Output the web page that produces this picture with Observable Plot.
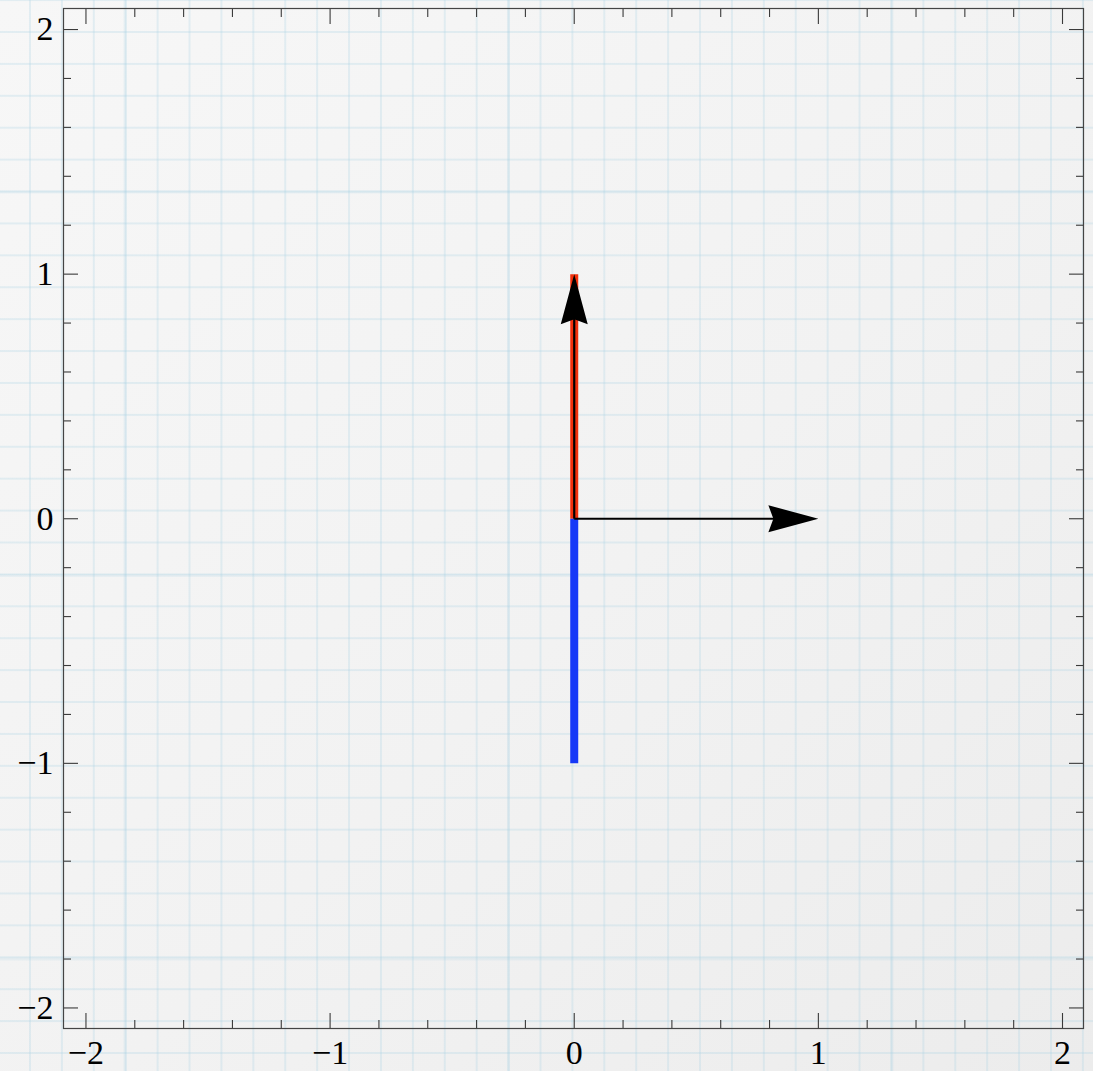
<!DOCTYPE html>
<html>
<head>
<meta charset="utf-8">
<script src="https://cdn.jsdelivr.net/npm/d3@7"></script>
<script src="https://cdn.jsdelivr.net/npm/@observablehq/plot@0.6"></script>
<style>
  html, body { margin: 0; padding: 0; }
  #chart {
    width: 1093px; height: 1071px; position: relative; overflow: hidden;
    background-image:
      linear-gradient(to right, rgba(150,200,222,0.14) 3px, transparent 3px),
      linear-gradient(to bottom, rgba(150,200,222,0.14) 3px, transparent 3px),
      linear-gradient(to right, rgba(165,208,226,0.26) 2px, transparent 2px),
      linear-gradient(to bottom, rgba(165,208,226,0.26) 2px, transparent 2px),
      linear-gradient(135deg, #f7f7f7 0%, #f2f2f2 55%, #ececec 100%);
    background-size: 383.5px 383.5px, 383.5px 383.5px, 31.92px 31.92px, 31.92px 31.92px, 100% 100%;
    background-position: 123.5px 0, 0 190.5px, 29px 0, 0 31px, 0 0;
  }
  #chart svg { position: absolute; left: 0; top: 0; }
</style>
</head>
<body>
<div id="chart"></div>
<script>
// ---- data ----
const xMajorTicks = [-2, -1, 0, 1, 2];
const yMajorTicks = [-2, -1, 0, 1, 2];
const xTickLabels = ["\u22122", "\u22121", "0", "1", "2"];
const yTickLabels = ["\u22122", "\u22121", "0", "1", "2"];
const minorTicks = [-1.8, -1.6, -1.4, -1.2, -0.8, -0.6, -0.4, -0.2, 0.2, 0.4, 0.6, 0.8, 1.2, 1.4, 1.6, 1.8];

// red segment (0,0)-(0,1)
const redX = [0, 0];
const redY = [0, 1];
// blue segment (0,0)-(0,-1)
const blueX = [0, 0];
const blueY = [0, -1];
// black arrows
const arrowX1 = [0, 0];
const arrowY1 = [0, 0];
const arrowX2 = [0, 1];
const arrowY2 = [1, 0];

const arrowRows = arrowX1.map((x1, i) => ({
  x1, y1: arrowY1[i], x2: arrowX2[i], y2: arrowY2[i],
  angle: Math.atan2(arrowX2[i] - x1, arrowY2[i] - arrowY1[i]) * 180 / Math.PI
}));

// filled arrowhead symbol: tip at origin, pointing up
const headSymbol = {
  draw(ctx) {
    ctx.moveTo(0, 0);
    ctx.lineTo(13.5, 50);
    ctx.lineTo(0, 45);
    ctx.lineTo(-13.5, 50);
    ctx.closePath();
  }
};

const tickColor = "#3a3a3a";
const axisCommon = {label: null, stroke: tickColor, strokeWidth: 1.1};
const serif = "'Liberation Serif', 'DejaVu Serif', serif";

const plot = Plot.plot({
  width: 1093,
  height: 1071,
  marginLeft: 63,
  marginRight: 10,
  marginTop: 8,
  marginBottom: 43,
  x: {domain: [-2.092, 2.086]},
  y: {domain: [-2.084, 2.086]},
  style: {background: "transparent", fontFamily: serif, color: "#000"},
  marks: [
    // tick labels
    Plot.text(xMajorTicks, {x: d => d, text: (d, i) => xTickLabels[i], frameAnchor: "bottom", lineAnchor: "top", dy: 11, fontSize: 34, fontFamily: serif, fill: "#000"}),
    Plot.text(yMajorTicks, {y: d => d, text: (d, i) => yTickLabels[i], frameAnchor: "left", textAnchor: "end", lineAnchor: "middle", dx: -10, fontSize: 34, fontFamily: serif, fill: "#000"}),
    // major ticks (inward)
    Plot.axisX(xMajorTicks, {...axisCommon, anchor: "bottom", tickSize: 15, dy: -15, tickFormat: () => ""}),
    Plot.axisX(xMajorTicks, {...axisCommon, anchor: "top", tickSize: 15, dy: 15, tickFormat: () => ""}),
    Plot.axisY(yMajorTicks, {...axisCommon, anchor: "left", tickSize: 15, dx: 15, tickFormat: () => ""}),
    Plot.axisY(yMajorTicks, {...axisCommon, anchor: "right", tickSize: 15, dx: -15, tickFormat: () => ""}),
    // minor ticks
    Plot.axisX(minorTicks, {...axisCommon, anchor: "bottom", tickSize: 8, dy: -8, tickFormat: () => ""}),
    Plot.axisX(minorTicks, {...axisCommon, anchor: "top", tickSize: 8, dy: 8, tickFormat: () => ""}),
    Plot.axisY(minorTicks, {...axisCommon, anchor: "left", tickSize: 8, dx: 8, tickFormat: () => ""}),
    Plot.axisY(minorTicks, {...axisCommon, anchor: "right", tickSize: 8, dx: -8, tickFormat: () => ""}),
    Plot.frame({stroke: "#444", strokeWidth: 1.2}),
    // red segment
    Plot.line({length: redX.length}, {x: redX, y: redY, stroke: "#f2300c", strokeWidth: 8, strokeLinecap: "butt"}),
    // blue segment
    Plot.line({length: blueX.length}, {x: blueX, y: blueY, stroke: "#1638f7", strokeWidth: 8, strokeLinecap: "butt"}),
    // arrow shafts
    Plot.arrow(arrowRows, {x1: "x1", y1: "y1", x2: "x2", y2: "y2", headLength: 0, insetEnd: 44, stroke: "#000", strokeWidth: 2.2, strokeLinecap: "butt"}),
    // arrow heads
    Plot.dot(arrowRows, {x: "x2", y: "y2", symbol: headSymbol, rotate: "angle", fill: "#000", stroke: "none", r: 10})
  ]
});

document.getElementById("chart").appendChild(plot);
</script>
</body>
</html>
